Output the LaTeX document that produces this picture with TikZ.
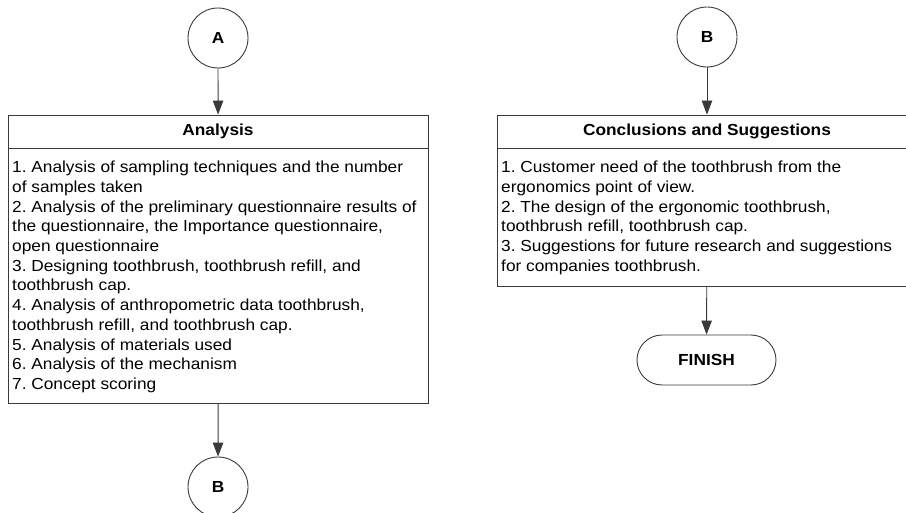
\documentclass[tikz,border=0pt]{standalone}
\usepackage{fontspec}
\setmainfont{Liberation Sans}[FakeStretch=1.08]
\usetikzlibrary{arrows.meta}
\definecolor{lc}{HTML}{3A3A3A}
\frenchspacing
\begin{document}
\begin{tikzpicture}[x=1pt,y=-1pt,
  every node/.style={font=\fontsize{16}{19.7}\selectfont, text=black},
  conn/.style={circle, draw=lc, line width=0.9pt, minimum size=60pt, inner sep=0pt, font=\fontsize{16}{19.7}\selectfont\bfseries},
  boxframe/.style={draw=lc, line width=0.9pt, rectangle, inner sep=0pt},
  hdr/.style={font=\fontsize{16}{19.7}\selectfont\bfseries, inner sep=0pt},
  bodytxt/.style={align=left, anchor=north west, inner sep=0pt},
  arr/.style={draw=lc, line width=0.9pt, -{Triangle[length=14pt,width=10.5pt]}},
  sep/.style={draw=lc, line width=0.9pt},
  term/.style={draw=lc, line width=0.9pt, rounded corners=25pt, minimum width=139pt, minimum height=50pt, inner sep=0pt, font=\fontsize{16}{19.7}\selectfont\bfseries}
]
\useasboundingbox (0,0) rectangle (906,513);

% left column
\node[conn] (A) at (218,38) {A};
\node[boxframe, minimum width=419.5pt, minimum height=288pt] (an) at (218.25,259) {};
\coordinate (anL) at (8.5,148);
\coordinate (anR) at (428,148);
\draw[sep] (anL) -- (anR);
\node[hdr] (anh) at (218,131.5) {Analysis};
\node[bodytxt] (ant) at (12,161) {1. Analysis of sampling techniques and the number\\
of samples taken\\
2. Analysis of the preliminary questionnaire results of\\
the questionnaire, the Importance questionnaire,\\
open questionnaire\\
3. Designing toothbrush, toothbrush refill, and\\
toothbrush cap.\\
4. Analysis of anthropometric data toothbrush,\\
toothbrush refill, and toothbrush cap.\\
5. Analysis of materials used\\
6. Analysis of the mechanism\\
7. Concept scoring};
\node[conn] (B1) at (218,487) {B};
\draw[arr] (A) -- (an);
\draw[arr] (an) -- (B1);

% right column
\node[conn] (B2) at (707,37) {B};
\node[boxframe, minimum width=420pt, minimum height=171pt] (cs) at (707,200.5) {};
\coordinate (csL) at (497,148);
\coordinate (csR) at (917,148);
\draw[sep] (csL) -- (csR);
\node[hdr] (csh) at (707,131.5) {Conclusions and Suggestions};
\node[bodytxt] (cst) at (501,161) {1. Customer need of the toothbrush from the\\
ergonomics point of view.\\
2. The design of the ergonomic toothbrush,\\
toothbrush refill, toothbrush cap.\\
3. Suggestions for future research and suggestions\\
for companies toothbrush.};
\node[term] (fin) at (706.5,360) {FINISH};
\draw[arr] (B2) -- (cs);
\draw[arr] (cs) -- (fin);
\end{tikzpicture}
\end{document}
